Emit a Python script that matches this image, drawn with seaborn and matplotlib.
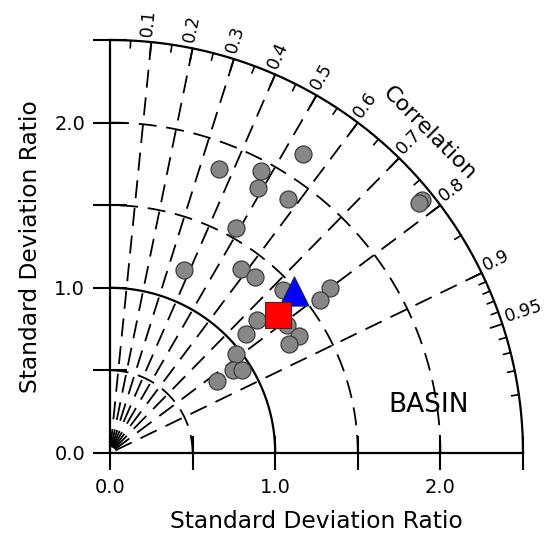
import numpy as np
import pandas as pd
import matplotlib
matplotlib.use("Agg")
import matplotlib.pyplot as plt
import seaborn as sns

# ---------------- data ----------------
# gray circles: standard deviation ratio and correlation of each model
model_std = [1.844, 1.939, 1.840, 2.157, 1.880, 2.430, 2.404, 1.563, 1.196, 1.369,
             1.382, 1.666, 1.575, 1.440, 1.201, 1.095, 1.324, 1.347, 1.270, 0.971,
             0.899, 0.945, 0.781]
model_corr = [0.358, 0.472, 0.488, 0.542, 0.574, 0.776, 0.777, 0.489, 0.375, 0.580,
              0.636, 0.800, 0.808, 0.728, 0.742, 0.753, 0.810, 0.850, 0.854, 0.786,
              0.829, 0.847, 0.830]
# blue triangle and red square
tri_std = [1.486]
tri_corr = [0.750]
sq_std = [1.313]
sq_corr = [0.773]

std_solid = [1.0, 2.5]
std_dashed = [0.5, 1.5, 2.0]
corr_lines = [0.1, 0.2, 0.3, 0.4, 0.5, 0.6, 0.7, 0.8, 0.9]
corr_major = [0.1, 0.2, 0.3, 0.4, 0.5, 0.6, 0.7, 0.8, 0.9, 0.95]
corr_minor = [0.05, 0.15, 0.25, 0.35, 0.45, 0.55, 0.65, 0.75, 0.85,
              0.91, 0.92, 0.93, 0.94, 0.96, 0.97, 0.98, 0.99]
axis_ticks = [0.0, 0.5, 1.0, 1.5, 2.0, 2.5]
axis_ticklabels = ["0.0", "", "1.0", "", "2.0", ""]
axis_label = "Standard Deviation Ratio"
corr_title = "Correlation"
region_label = "BASIN"
RMAX = 2.5

# ---------------- style ----------------
sns.set_style("white")
plt.rcParams["font.family"] = ["DejaVu Sans"]
plt.rcParams["lines.scale_dashes"] = False
plt.rcParams["text.color"] = "black"
plt.rcParams["axes.labelcolor"] = "black"
plt.rcParams["xtick.color"] = "black"
plt.rcParams["ytick.color"] = "black"

fig = plt.figure(figsize=(5.44, 5.34), dpi=100)
ax = fig.add_axes([110 / 544, 81 / 534, 413 / 544, 413 / 534])
ax.set_xlim(0, RMAX)
ax.set_ylim(0, RMAX)

def to_xy(s, c):
    th = np.arccos(np.asarray(c, float))
    s = np.asarray(s, float)
    return s * np.cos(th), s * np.sin(th)

dash = (0, (13, 7))
th = np.linspace(0, np.pi / 2, 400)
for r in std_solid:
    ax.plot(r * np.cos(th), r * np.sin(th), color="black", lw=1.6, clip_on=False, zorder=2)
for r in std_dashed:
    ax.plot(r * np.cos(th), r * np.sin(th), color="black", lw=1.3, ls=dash, clip_on=False, zorder=2)
for c in corr_lines:
    a = np.arccos(c)
    ax.plot([RMAX * np.cos(a), 0], [RMAX * np.sin(a), 0], color="black", lw=1.3, ls=dash,
            clip_on=False, zorder=2)
for c in corr_major:
    a = np.arccos(c)
    ax.plot([RMAX * np.cos(a), (RMAX - 0.075) * np.cos(a)],
            [RMAX * np.sin(a), (RMAX - 0.075) * np.sin(a)], color="black", lw=1.3, clip_on=False)
    ax.text((RMAX + 0.03) * np.cos(a), (RMAX + 0.03) * np.sin(a), f"{c:g}",
            rotation=np.degrees(a), rotation_mode="anchor", ha="left", va="baseline",
            fontsize=12.5)
for c in corr_minor:
    a = np.arccos(c)
    ax.plot([RMAX * np.cos(a), (RMAX - 0.045) * np.cos(a)],
            [RMAX * np.sin(a), (RMAX - 0.045) * np.sin(a)], color="black", lw=1.2, clip_on=False)

a45 = np.radians(45)
ax.text(2.735 * np.cos(a45), 2.735 * np.sin(a45), corr_title, rotation=-45,
        rotation_mode="anchor", ha="center", va="center", fontsize=16)

# ---------------- markers ----------------
mx, my = to_xy(model_std, model_corr)
df = pd.DataFrame({"x": mx, "y": my})
sns.scatterplot(data=df, x="x", y="y", ax=ax, s=150, color="#878787",
                edgecolor="#3c3c3c", linewidth=0.9, zorder=3, clip_on=False)
tx, ty = to_xy(tri_std, tri_corr)
sns.scatterplot(x=tx, y=ty, ax=ax, marker="^", s=440, color="#0000ff",
                edgecolor="#202040", linewidth=0.8, zorder=4)
qx, qy = to_xy(sq_std, sq_corr)
sns.scatterplot(x=qx, y=qy, ax=ax, marker="s", s=370, color="#ff0000",
                edgecolor="#502020", linewidth=0.8, zorder=5)

ax.text(1.93, 0.29, region_label, ha="center", va="center", fontsize=19)

# ---------------- axes ----------------
for sp in ["top", "right"]:
    ax.spines[sp].set_visible(False)
for sp in ["left", "bottom"]:
    ax.spines[sp].set_linewidth(1.6)
    ax.spines[sp].set_color("black")
ax.set_xticks(axis_ticks)
ax.set_xticklabels(axis_ticklabels)
ax.set_yticks(axis_ticks)
ax.set_yticklabels(axis_ticklabels)
ax.tick_params(bottom=True, left=True, direction="inout", length=24, width=1.5,
               labelsize=14, pad=6, colors="black")
ax.set_xlabel(axis_label, fontsize=16.8, labelpad=9, color="black")
ax.set_ylabel(axis_label, fontsize=16.8, labelpad=9, color="black")
ax.set_aspect("equal")
ax.set_position([110 / 544, 81 / 534, 413 / 544, 413 / 534])

fig.savefig("out.png", dpi=100)
